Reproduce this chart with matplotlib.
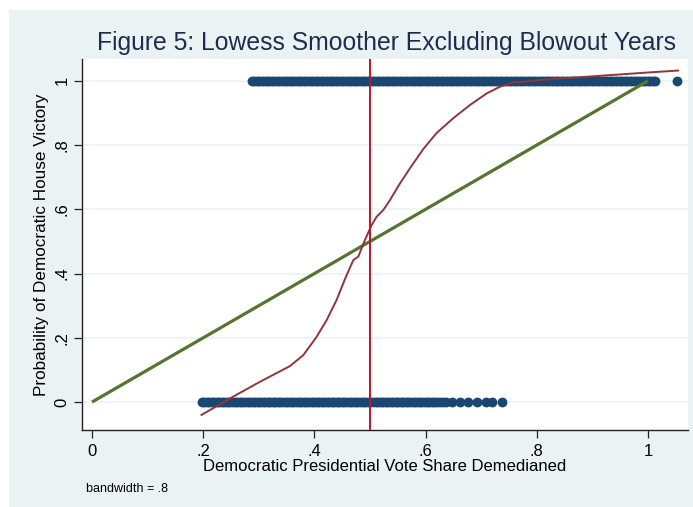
import matplotlib
matplotlib.use("Agg")
import matplotlib.pyplot as plt
from matplotlib.patches import Rectangle

plt.rcParams['font.family'] = ['Liberation Sans', 'DejaVu Sans']

# Observed House outcomes (0 = loss, 1 = win) by demedianed presidential vote share
loss_share = [
    0.197, 0.201, 0.206, 0.211, 0.215, 0.220, 0.224, 0.229, 0.234, 0.238,
    0.243, 0.247, 0.252, 0.257, 0.261, 0.266, 0.270, 0.275, 0.280, 0.284,
    0.289, 0.293, 0.298, 0.303, 0.307, 0.312, 0.316, 0.321, 0.326, 0.330,
    0.335, 0.339, 0.344, 0.349, 0.353, 0.358, 0.362, 0.367, 0.372, 0.376,
    0.381, 0.385, 0.390, 0.395, 0.399, 0.404, 0.408, 0.413, 0.418, 0.422,
    0.427, 0.431, 0.436, 0.441, 0.445, 0.450, 0.454, 0.459, 0.464, 0.468,
    0.473, 0.477, 0.482, 0.487, 0.491, 0.496, 0.500, 0.505, 0.510, 0.514,
    0.519, 0.523, 0.528, 0.533, 0.537, 0.542, 0.546, 0.551, 0.556, 0.560,
    0.565, 0.569, 0.574, 0.579, 0.583, 0.588, 0.592, 0.597, 0.602, 0.606,
    0.611, 0.615, 0.620, 0.626, 0.631, 0.636,
    0.647, 0.662, 0.677, 0.692, 0.708, 0.720, 0.737]
win_share = [
    0.287, 0.291, 0.296, 0.301, 0.305, 0.310, 0.314, 0.319, 0.324, 0.328,
    0.333, 0.337, 0.342, 0.347, 0.351, 0.356, 0.360, 0.365, 0.370, 0.374,
    0.379, 0.383, 0.388, 0.393, 0.397, 0.402, 0.406, 0.411, 0.416, 0.420,
    0.425, 0.429, 0.434, 0.439, 0.443, 0.448, 0.452, 0.457, 0.462, 0.466,
    0.471, 0.475, 0.480, 0.485, 0.489, 0.494, 0.498, 0.503, 0.508, 0.512,
    0.517, 0.521, 0.526, 0.531, 0.535, 0.540, 0.544, 0.549, 0.554, 0.558,
    0.563, 0.567, 0.572, 0.577, 0.581, 0.586, 0.590, 0.595, 0.600, 0.604,
    0.609, 0.613, 0.618, 0.623, 0.627, 0.632, 0.636, 0.641, 0.646, 0.650,
    0.655, 0.659, 0.664, 0.669, 0.673, 0.678, 0.682, 0.687, 0.692, 0.696,
    0.701, 0.705, 0.710, 0.715, 0.719, 0.724, 0.728, 0.733, 0.738, 0.742,
    0.747, 0.751, 0.756, 0.761, 0.765, 0.770, 0.774, 0.779, 0.784, 0.788,
    0.793, 0.797, 0.802, 0.807, 0.811, 0.816, 0.820, 0.825, 0.830, 0.834,
    0.839, 0.843, 0.848, 0.853, 0.857, 0.862, 0.866, 0.871, 0.876, 0.880,
    0.885, 0.889, 0.894, 0.899, 0.903, 0.908, 0.912, 0.917, 0.922, 0.926,
    0.931, 0.935, 0.940, 0.945, 0.949, 0.954, 0.958, 0.963, 0.968, 0.972,
    0.977, 0.981, 0.986, 0.991, 0.995, 1.000, 1.004, 1.009, 1.013,
    1.052]

# Lowess smoother (bandwidth .8)
lowess_x = [0.197, 0.254, 0.302, 0.356, 0.380, 0.404, 0.422, 0.440, 0.455, 0.470,
            0.479, 0.491, 0.503, 0.512, 0.524, 0.536, 0.554, 0.572, 0.596, 0.620,
            0.650, 0.680, 0.710, 0.734, 0.758, 0.782, 0.806, 0.900, 1.000, 1.054]
lowess_y = [-0.040, 0.017, 0.063, 0.112, 0.146, 0.203, 0.255, 0.318, 0.383, 0.442,
            0.453, 0.505, 0.551, 0.577, 0.598, 0.629, 0.681, 0.728, 0.788, 0.838,
            0.884, 0.925, 0.961, 0.982, 0.995, 0.998, 1.003, 1.014, 1.026, 1.032]

# Linear fit through the outcomes
fit_x = [0.0, 1.0]
fit_y = [0.0, 1.0]

cutoff = 0.5

xticks = [0, 0.2, 0.4, 0.6, 0.8, 1.0]
xticklabels = ['0', '.2', '.4', '.6', '.8', '1']
yticks = [0, 0.2, 0.4, 0.6, 0.8, 1.0]
yticklabels = ['0', '.2', '.4', '.6', '.8', '1']

W, H = 693, 507
fig = plt.figure(figsize=(W / 100, H / 100), dpi=100)
fig.patch.set_facecolor('white')
bg = '#EAF2F3'
fig.patches.append(Rectangle((9 / W, 0), 1 - 9 / W, (H - 10) / H,
                             transform=fig.transFigure, facecolor=bg,
                             edgecolor='none', zorder=-10))

ax = fig.add_axes([82 / W, (H - 430) / H, (688 - 82) / W, (430 - 59) / H])
ax.set_facecolor('white')
ax.set_xlim(-0.018, 1.072)
ax.set_ylim(-0.087, 1.068)

for yt in yticks:
    ax.axhline(yt, color=bg, lw=1.2, zorder=0)

navy = '#1A476F'
ax.scatter(loss_share, [0] * len(loss_share), s=50, color=navy, zorder=2, lw=0)
ax.scatter(win_share, [1] * len(win_share), s=50, color=navy, zorder=2, lw=0)
ax.plot(fit_x, fit_y, color='#55752F', lw=2.3, zorder=3, solid_capstyle='butt')
ax.plot(lowess_x, lowess_y, color='#90353B', lw=1.4, zorder=4)
ax.axvline(cutoff, color='#C4102F', lw=1.4, zorder=5)

for side in ['top', 'right']:
    ax.spines[side].set_visible(False)
for side in ['left', 'bottom']:
    ax.spines[side].set_color('#222222')
    ax.spines[side].set_linewidth(1.0)

ax.set_xticks(xticks)
ax.set_xticklabels(xticklabels, fontsize=12)
ax.set_yticks(yticks)
ax.set_yticklabels(yticklabels, fontsize=12, rotation=90, va='center')
ax.tick_params(axis='x', length=6, width=0.9, color='#222222', pad=4)
ax.tick_params(axis='y', length=6, width=0.9, color='#222222', pad=3)

ax.set_xlabel('Democratic Presidential Vote Share Demedianed', fontsize=12, labelpad=0)
ax.set_ylabel('Probability of Democratic House Victory', fontsize=12.3, labelpad=4)

fig.text(386 / W, 1 - 43 / H, 'Figure 5: Lowess Smoother Excluding Blowout Years',
         ha='center', va='center', fontsize=17.8, color='#1E2D4F')
fig.text(86 / W, 1 - 489 / H, 'bandwidth = .8', ha='left', va='center', fontsize=9)

fig.savefig('out.png', dpi=100, facecolor=fig.get_facecolor())
